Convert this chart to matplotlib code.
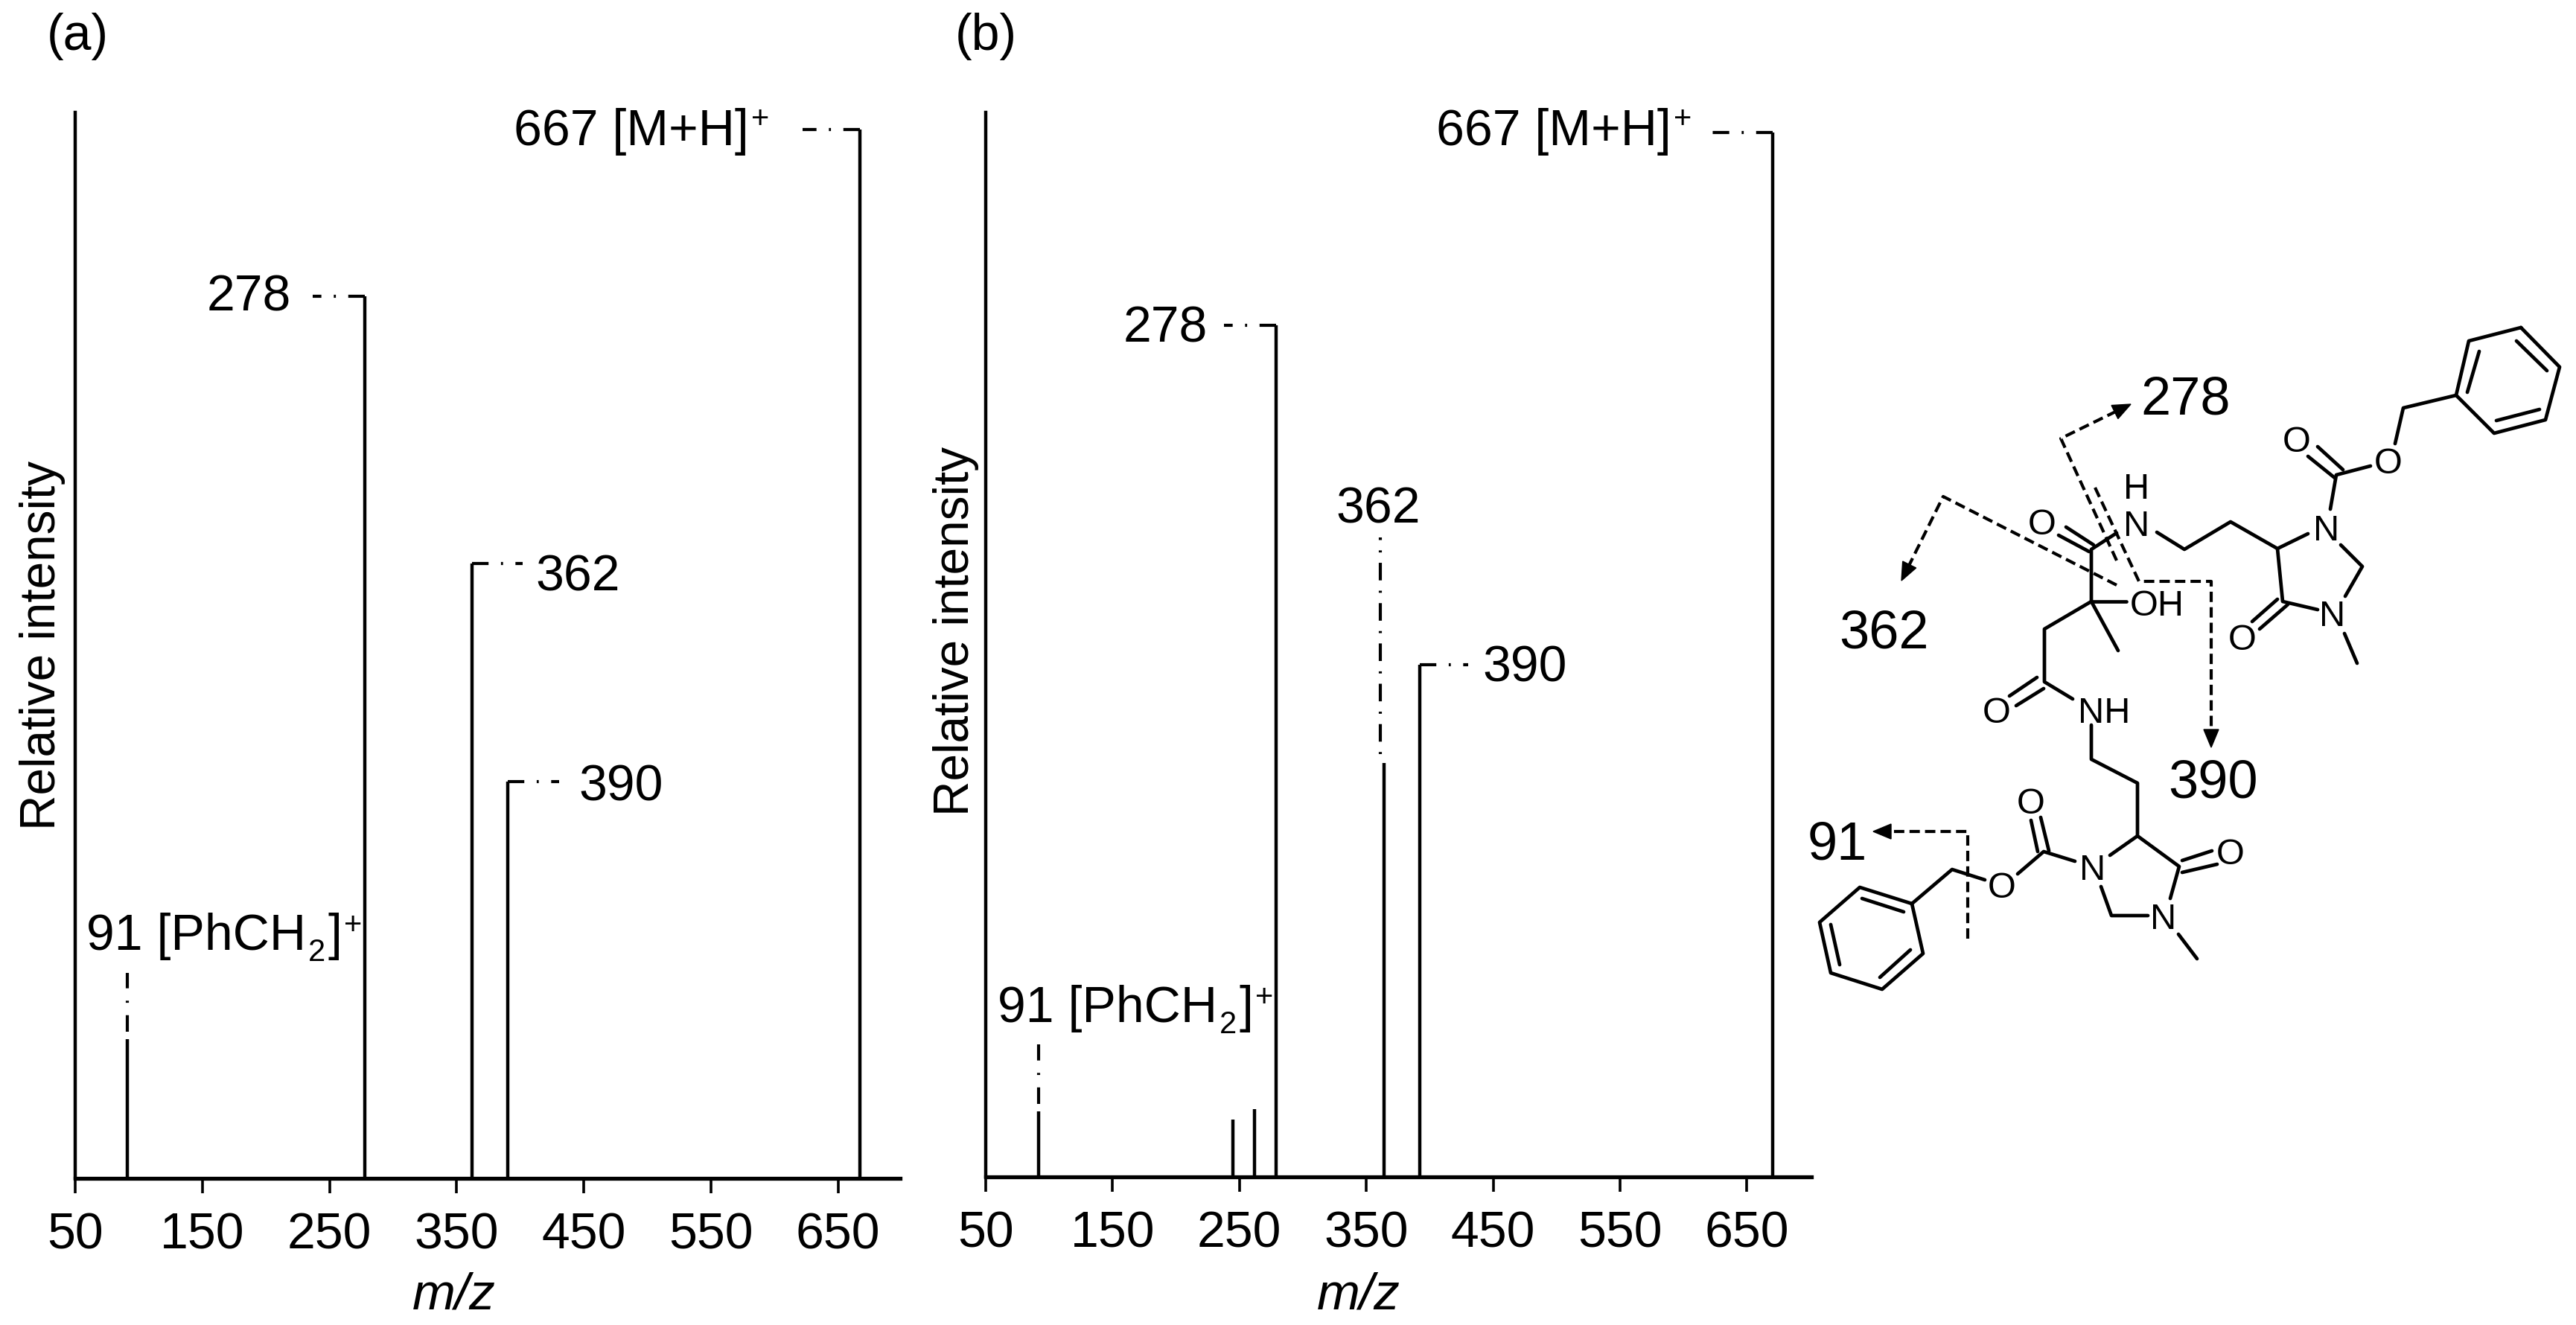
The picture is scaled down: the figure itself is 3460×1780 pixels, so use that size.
import matplotlib
matplotlib.use("Agg")
import matplotlib.pyplot as plt
from matplotlib.patches import Polygon

plt.rcParams['font.family'] = ['Liberation Sans', 'DejaVu Sans']
plt.rcParams['lines.scale_dashes'] = False

# spectra
mz_a = [91, 278, 362, 390, 667]
int_a = [13.3, 84.1, 58.6, 37.8, 100]
mz_b = [91.5, 245, 262, 279, 364, 392, 670]
int_b = [6.3, 5.5, 6.5, 81.5, 39.6, 49.0, 100]
ticks = [50, 150, 250, 350, 450, 550, 650]

# leader ends: horizontal ones in m/z, vertical ones in intensity
h_leaders_a = [(278, 84.1, 237), (362, 58.6, 402), (390, 37.8, 430.6), (667, 100, 622)]
v_leaders_a = [(91, 14.0, 19.6)]
h_leaders_b = [(279, 81.5, 238), (392, 49.0, 430), (670, 100, 623)]
v_leaders_b = [(91.5, 7.0, 12.7)]
long_leader_b = (361, 40.5, 61.2)

# structure drawing, in pixels of the picture
bonds = [
    [(3386, 441), (3438, 494), (3419, 565), (3350, 583), (3299, 532), (3316, 459), (3386, 441)],
    [(3380, 459), (3421, 499)], [(3411, 551), (3353, 566)], [(3314, 528), (3330, 473)],
    [(3299, 532), (3228, 549), (3217, 597)],
    [(3184, 627), (3138, 639), (3130, 685)],
    [(3113, 601), (3147, 632)], [(3100, 614), (3136, 643)],
    [(3100, 718), (3059, 738), (2996, 702), (2934, 739), (2897, 716)],
    [(3059, 738), (3066, 809), (3113, 820)],
    [(3144, 733), (3173, 762), (3150, 802)],
    [(3059, 806), (3025, 836)], [(3073, 813), (3035, 846)],
    [(3149, 852), (3166, 892)],
    [(2843, 717), (2809, 739), (2809, 809)],
    [(2775, 709), (2812, 733)], [(2765, 720), (2806, 742)],
    [(2809, 809), (2856, 809)], [(2809, 809), (2845, 875)],
    [(2809, 809), (2746, 846), (2746, 917), (2784, 940)],
    [(2736, 911), (2699, 936)], [(2745, 926), (2708, 949)],
    [(2809, 975), (2809, 1021), (2871, 1053), (2871, 1124), (2927, 1165), (2915, 1208)],
    [(2871, 1124), (2834, 1150)],
    [(2931, 1157), (2971, 1144)], [(2931, 1173), (2978, 1162)],
    [(2885, 1231), (2836, 1231), (2822, 1192)],
    [(2926, 1256), (2951, 1289)],
    [(2787, 1158), (2745, 1145), (2710, 1175)],
    [(2728, 1103), (2737, 1145)], [(2741, 1099), (2752, 1144)],
    [(2666, 1183), (2622, 1169), (2568, 1215)],
    [(2568, 1215), (2583, 1282), (2528, 1330), (2459, 1308), (2444, 1240), (2498, 1193), (2568, 1215)],
    [(2501, 1208), (2557, 1226)], [(2566, 1277), (2525, 1314)], [(2471, 1297), (2459, 1243)],
]
atoms = [
    ('O', 3208, 624), ('O', 3085, 595), ('N', 3125, 714), ('N', 2870, 708), ('H', 2870, 658),
    ('O', 2743, 706), ('OH', 2897, 815), ('O', 2682, 959), ('NH', 2826, 959),
    ('N', 3133, 829), ('O', 3012, 861),
    ('N', 2811, 1170), ('O', 2996, 1149), ('N', 2906, 1236), ('O', 2728, 1081), ('O', 2689, 1194),
]
cut_paths = [
    [(2843, 754), (2768, 590), (2862, 544)],
    [(2814, 656), (2873, 782), (2970, 782), (2970, 1005)],
    [(2843, 787), (2610, 668), (2554, 781)],
    [(2643, 1262), (2643, 1118), (2516, 1118)],
]
cut_labels = [('278', 2936, 538), ('362', 2530, 852), ('390', 2973, 1053), ('91', 2468, 1136)]

peak_labels = [
    ('(a)', 104, 49), ('(b)', 1324, 49),
    ('278', 334, 400), ('362', 776, 776), ('390', 834, 1058),
    ('278', 1565, 441), ('362', 1851, 685), ('390', 2048, 898),
]

W, H = 3460, 1781
fig = plt.figure(figsize=(W / 100, H / 100), dpi=100)
LEADER = (0, (16, 12, 2, 12, 16, 100))
LONG_LEADER = (0, (2, 10, 17, 10))


def panel(left, right, top, bottom, xmax, ymax, mz, inten, h_leaders, v_leaders, xlab_x, ylab_y, ylab_x):
    ax = fig.add_axes([left / W, 1 - bottom / H, (right - left) / W, (bottom - top) / H])
    ax.vlines(mz, 0, inten, color='black', lw=3.2)
    for x, y, end in h_leaders:
        ax.plot([x, end], [y, y], color='black', lw=3.0, linestyle=LEADER, dash_capstyle='butt')
    for x, y, end in v_leaders:
        ax.plot([x, x], [y, end], color='black', lw=3.0, linestyle=LEADER, dash_capstyle='butt')
    ax.set_xlim(50, xmax)
    ax.set_ylim(0, ymax)
    ax.set_xticks(ticks)
    ax.set_yticks([])
    ax.spines['top'].set_visible(False)
    ax.spines['right'].set_visible(False)
    ax.spines['left'].set_linewidth(3.2)
    ax.spines['bottom'].set_linewidth(3.8)
    ax.tick_params(axis='x', length=14.5, width=2.6, pad=17, labelsize=49)
    ax.set_xlabel('m/z', style='italic', fontsize=50, va='center')
    ax.xaxis.set_label_coords((xlab_x - left) / (right - left), (bottom - 1741) / (bottom - top))
    ax.set_ylabel('Relative intensity', fontsize=47.3, va='center')
    ax.yaxis.set_label_coords((ylab_x - left) / (right - left), (bottom - ylab_y) / (bottom - top))
    return ax


ax_a = panel(101, 1209, 152, 1584, 698.8, 101.6, mz_a, int_a, h_leaders_a, v_leaders_a, 610, 867, 57)
ax_b = panel(1324, 2433, 152, 1582, 700.8, 101.9, mz_b, int_b, h_leaders_b, v_leaders_b, 1825, 848, 1284)
ax_b.plot([long_leader_b[0]] * 2, long_leader_b[1:], color='black', lw=3.0,
          linestyle=LONG_LEADER, dash_capstyle='butt')

# overlay in picture pixels for the labels and the structure
ov = fig.add_axes([0, 0, 1, 1])
ov.set_xlim(0, W)
ov.set_ylim(H, 0)
ov.axis('off')
ov.patch.set_alpha(0)
renderer = fig.canvas.get_renderer()


def rich(x, y, parts):
    # text pieces with smaller sub and superscripts, left to right from the baseline
    for s, size, dy in parts:
        t = ov.text(x, y + dy, s, fontsize=size, ha='left', va='baseline')
        x += t.get_window_extent(renderer).width + 3


for x0, y0 in [(690, 195), (1929, 195)]:
    rich(x0, y0, [('667 [M+H]', 49, 0), ('+', 30, -23)])
for x0, y0 in [(116, 1276), (1340, 1373)]:
    rich(x0, y0, [('91 [PhCH', 49, 0), ('2', 30, 15), (']', 49, 0), ('+', 30, -21)])

for s, x, y in peak_labels:
    ov.text(x, y, s, fontsize=49, ha='center', va='center')

for b in bonds:
    ov.plot([p[0] for p in b], [p[1] for p in b], color='black', lw=3.4, solid_capstyle='round')
for s, x, y in atoms:
    ov.text(x, y, s, fontsize=35, ha='center', va='center')
for path in cut_paths:
    x0, y0 = path[-2]
    x1, y1 = path[-1]
    d = ((x1 - x0) ** 2 + (y1 - y0) ** 2) ** 0.5
    ux, uy = (x1 - x0) / d, (y1 - y0) / d
    bx, by = x1 - ux * 24, y1 - uy * 24
    ov.plot([p[0] for p in path[:-1]] + [bx], [p[1] for p in path[:-1]] + [by], color='black', lw=3.0,
            linestyle=(0, (10, 5)))
    ov.add_patch(Polygon([(x1, y1), (bx - uy * 10, by + ux * 10), (bx + uy * 10, by - ux * 10)], color='black'))
for s, x, y in cut_labels:
    ov.text(x, y, s, fontsize=52, ha='center', va='center')

fig.savefig('out.png', dpi=100)
